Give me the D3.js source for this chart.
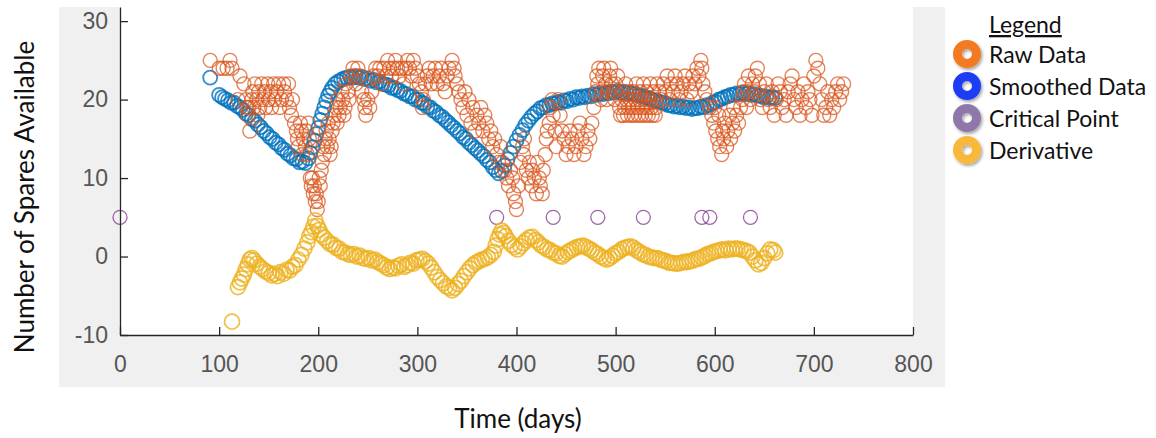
<!DOCTYPE html>
<html lang="en">
<head>
    <meta charset="UTF-8">
    <title>Number of Spares Available</title>
    <script src="https://d3js.org/d3.v7.min.js"></script>
    <style>
        body { margin: 0; background: #fff; }
        svg { display: block; }
        .tick text { font-family: "Liberation Sans", Arial, sans-serif; font-size: 23px; fill: #555; }
        .lbl { font-family: Lato, "Open Sans", sans-serif; fill: #111; }
    </style>
</head>
<body>
    <svg id="chart" width="1156" height="438"></svg>

    <script>
        // raw spares count per day [day, count]
        const rawData = [
            [91,25],[100,24],[104,24],[108,24],[111,25],[113,24],[121,23],[125,22],
            [119,20],[127,20],[128,19],[129,18],[130,19],[131,16],[133,20],[134,21],[135,19],[136,22],[138,20],
            [139,18],[140,21],[141,19],[143,22],[144,20],[146,21],[147,19],[149,22],[150,20],[152,21],[153,19],
            [155,22],[156,20],[158,21],[160,22],[161,19],[163,20],[165,22],[166,21],[168,20],[170,22],[171,19],
            [173,18],[174,20],
            [176,17],[178,16],[179,15],[180,14],[182,17],[183,16],[184,13],[185,15],[187,14],[188,16],[189,13],
            [190,17],[191,15],
            [192,10],[193,9],[194,10],[195,8],[196,9],[197,7],[198,8],[199,6],[200,7],[201,10],[202,9],[203,11],[204,12],
            [205,14],[206,13],[207,15],[208,16],[209,14],[210,17],[211,15],[212,13],[213,14],[214,16],[215,17],
            [216,18],[218,19],[219,17],[220,20],[221,18],[222,19],[224,21],[225,20],[226,18],[227,19],[228,22],
            [230,21],[231,20],
            [233,23],[235,24],[237,23],[238,22],[240,24],[242,23],[244,21],[246,20],[247,19],[248,18],[250,20],
            [252,19],[254,21],[256,23],[258,24],[260,23],[262,24],[264,22],[266,24],[268,23],[270,25],[272,24],
            [274,23],[276,24],[278,25],[280,24],[282,23],[284,24],[286,22],[288,24],[290,25],[292,24],[294,23],
            [296,25],[298,24],[300,23],[302,22],[304,21],[305,19],[306,20],[308,22],[310,23],[312,24],[314,22],
            [316,23],[318,24],[320,22],[322,23],[324,24],[326,22],[328,21],[330,23],[332,24],[335,25],[337,24],
            [338,23],[340,22],[342,21],[344,20],[346,19],[348,21],[350,18],[352,20],[354,17],[356,19],[358,16],
            [360,18],[362,17],[364,19],[366,16],[368,18],[370,17],[372,15],[374,16],[376,14],[378,15],[380,13],
            [382,12],[384,14],[386,12],[388,11],
            [390,10],[392,9],[394,11],[396,10],[397,8],[399,7],[400,6],[402,9],[404,12],[406,14],[407,13],[408,15],
            [410,11],[412,10],[413,12],[415,9],[416,11],[418,10],[420,8],[421,12],[423,10],[424,9],[426,8],[427,11],
            [429,13],[430,15],[431,16],[433,17],[434,19],[436,20],[437,18],[439,16],[440,14],
            [442,20],[444,18],[446,16],[448,15],[450,13],[452,14],[454,16],[456,15],[458,13],[460,14],[462,16],
            [464,17],[466,15],[468,13],[470,14],[472,16],[474,15],[476,17],[478,19],[480,21],
            [481,23],[482,22],[483,24],[485,20],[486,21],[487,23],[488,24],[490,22],[491,20],[492,21],[494,23],
            [495,24],[496,22],[498,21],[499,20],[500,22],[502,23],
            [504,19],[505,18],[506,20],[507,21],[508,18],[509,19],[510,22],[511,20],[512,18],[513,19],[514,21],
            [515,20],[516,18],[517,19],[518,21],[519,18],[520,20],[521,22],[522,19],[523,18],[524,20],[525,21],
            [526,18],[527,19],[528,22],[529,20],[530,18],[531,21],[532,19],[533,18],[534,20],[535,22],[536,19],
            [537,18],[538,21],[539,20],[540,18],[541,19],[542,22],
            [544,21],[546,20],[548,22],[550,21],[552,23],[554,20],[556,22],[558,21],[560,23],[562,22],[564,20],
            [566,21],[568,22],[570,23],[572,20],[574,22],[576,21],[578,23],[580,22],[582,24],[584,23],[586,25],
            [587,24],[588,22],[590,21],[592,20],
            [595,19],[597,18],[599,17],[600,19],[601,16],[603,15],[604,18],[605,14],[607,13],[608,16],[609,15],
            [610,17],[612,14],[613,16],[615,18],[616,15],[618,17],[619,19],[620,16],[622,18],[624,17],[626,19],
            [628,20],[629,21],[630,22],[632,19],[633,21],[634,23],[636,20],[638,22],[640,21],[641,23],[643,24],
            [645,22],[646,20],[648,19],[650,21],
            [652,22],[654,20],[656,19],[658,21],[660,18],[662,20],[664,22],[666,21],[668,19],[670,20],[672,18],
            [674,21],[676,22],[678,23],[680,20],[682,19],[684,21],[686,18],[688,20],[690,22],[692,19],[694,21],
            [696,20],[698,18],
            [700,23],[702,25],[704,24],[706,22],[708,20],[710,18],[712,19],[714,21],[716,18],[718,20],[720,19],
            [722,21],[724,22],[726,20],[728,21],[730,22]
        ];

        // smoothed curve [day, value]
        const smoothedData = [
            [91,22.8],[100,20.6],[103,20.3],[106,20.1],[109,19.9],[112,19.6],[115,19.6],[118,19.2],[121,19.0],
            [124,18.7],[127,18.2],[130,18.0],[133,17.5],[136,17.3],[139,16.8],[142,16.5],[145,16.0],[148,15.7],
            [151,15.2],[154,15.0],[157,14.5],[160,14.3],[163,13.8],[166,13.6],[169,13.1],[172,12.9],[175,12.5],
            [178,12.4],[181,12.0],[184,12.1],[187,11.9],[190,12.5],[192,13.2],[194,13.9],[196,14.8],[198,15.6],
            [200,16.4],[202,17.4],[204,18.2],[206,19.0],[208,19.8],[210,20.5],[212,21.0],[214,21.5],[217,22.0],
            [220,22.3],[223,22.5],[226,22.7],[229,22.8],[232,22.9],[235,22.8],[238,23.0],[241,22.8],[244,22.9],
            [247,22.6],[250,22.7],[253,22.4],[256,22.5],[259,22.2],[262,22.3],[265,22.0],[268,21.9],[271,21.8],
            [274,21.5],[277,21.5],[280,21.2],[283,21.1],[286,20.8],[289,20.7],[292,20.4],[295,20.4],[298,20.0],
            [301,20.0],[304,19.6],[307,19.5],[310,19.1],[313,19.0],[316,18.6],[319,18.4],[322,18.0],[325,17.8],
            [328,17.4],[331,17.1],[334,16.7],[337,16.4],[340,16.0],[343,15.7],[346,15.2],[349,15.0],[352,14.5],
            [355,14.2],[358,13.8],[361,13.5],[364,13.1],[367,12.8],[370,12.3],[373,12.0],[376,11.4],[379,11.0],
            [382,10.6],[385,10.9],[388,11.6],[391,12.4],[394,13.2],[397,14.0],[400,14.8],[403,15.5],[406,16.1],
            [409,16.8],[412,17.3],[415,17.8],[418,18.2],[421,18.5],[424,18.9],[427,19.0],[430,19.3],[433,19.3],
            [436,19.5],[439,19.5],[442,19.7],[445,19.6],[448,19.9],[451,19.8],[454,20.1],[457,20.0],[460,20.3],
            [463,20.2],[466,20.4],[469,20.3],[472,20.5],[475,20.4],[478,20.7],[481,20.6],[484,20.8],[487,20.7],
            [490,20.9],[493,20.8],[496,21.0],[499,20.9],[502,21.1],[505,20.9],[508,21.0],[511,20.8],[514,20.9],
            [517,20.7],[520,20.7],[523,20.5],[526,20.5],[529,20.3],[532,20.2],[535,20.1],[538,19.9],[541,19.9],
            [544,19.7],[547,19.6],[550,19.5],[553,19.3],[556,19.3],[559,19.1],[562,19.2],[565,19.0],[568,19.1],
            [571,18.9],[574,19.0],[577,18.8],[580,18.9],[583,18.9],[586,19.1],[589,19.0],[592,19.3],[595,19.3],
            [598,19.6],[601,19.7],[604,20.0],[607,20.1],[610,20.3],[613,20.4],[616,20.6],[619,20.6],[622,20.8],
            [625,20.7],[628,20.9],[631,20.7],[634,20.8],[637,20.6],[640,20.7],[643,20.5],[646,20.5],[649,20.3],
            [652,20.4],[655,20.2],[658,20.3],[661,20.2]
        ];

        // critical points (plotted at y = 5)
        const criticalDays = [0, 380, 437, 482, 528, 587, 595, 636];
        const criticalLevel = 5;

        // derivative [day, value]
        const derivativeData = [
            [113,-8.3],[119,-3.9],[121,-3.3],[123,-2.8],[125,-2.3],[127,-1.6],[129,-1.0],[131,-0.4],[133,-0.2],
            [135,-0.5],[138,-0.9],[141,-1.3],[144,-1.6],[147,-1.9],[150,-2.1],[153,-2.4],[156,-2.2],[159,-2.5],
            [162,-2.0],[165,-2.2],[168,-1.7],[171,-1.8],[174,-1.3],[177,-1.1],[180,-0.4],[183,0.2],[186,1.0],
            [189,1.8],[191,2.6],[193,3.1],[195,3.8],[197,4.6],[199,3.9],[201,3.4],[203,2.8],[206,2.4],[209,2.0],
            [212,1.6],[215,1.5],[218,1.1],[221,1.0],[224,0.6],[227,0.5],[230,0.3],[233,0.2],[236,0.3],[239,0.0],
            [242,0.1],[245,-0.2],[248,-0.3],[251,-0.2],[254,-0.5],[257,-0.4],[260,-0.7],[263,-0.9],[266,-1.1],
            [269,-1.4],[272,-1.6],[275,-1.4],[278,-1.5],[281,-1.2],[284,-1.0],[287,-1.3],[290,-1.1],[293,-0.8],
            [296,-0.9],[299,-0.5],[302,-0.4],[305,-0.3],[308,-0.6],[311,-0.9],[314,-1.4],[317,-2.0],[320,-2.6],
            [323,-3.0],[326,-3.4],[329,-3.8],[332,-4.0],[335,-4.3],[338,-4.0],[341,-3.5],[344,-3.1],[347,-2.5],
            [350,-2.0],[353,-1.5],[356,-1.1],[359,-0.8],[362,-0.6],[365,-0.4],[368,-0.3],[371,-0.1],[374,0.2],
            [377,0.6],[379,1.4],[381,2.2],[383,2.8],[385,3.3],[387,3.0],[389,2.6],[392,2.0],[395,1.5],[398,1.2],
            [401,0.9],[404,1.3],[407,1.7],[410,2.1],[413,2.4],[416,2.5],[419,2.1],[422,1.8],[425,1.4],[428,1.2],
            [431,0.9],[434,0.8],[437,0.5],[440,0.4],[443,0.1],[446,0.0],[449,0.3],[452,0.6],[455,0.8],[458,1.0],
            [461,1.2],[464,1.3],[467,1.4],[470,1.2],[473,1.0],[476,0.8],[479,0.5],[482,0.3],[485,0.0],[488,-0.2],
            [491,-0.4],[494,-0.2],[497,0.1],[500,0.4],[503,0.6],[506,0.9],[509,1.1],[512,1.2],[515,1.3],[518,1.1],
            [521,0.8],[524,0.6],[527,0.3],[530,0.2],[533,0.0],[536,-0.1],[539,-0.2],[542,-0.2],[545,-0.4],
            [548,-0.5],[551,-0.6],[554,-0.8],[557,-0.8],[560,-0.9],[563,-0.9],[566,-0.8],[569,-0.7],[572,-0.7],
            [575,-0.6],[578,-0.5],[581,-0.3],[584,-0.3],[587,-0.1],[590,0.1],[593,0.3],[596,0.4],[599,0.6],
            [602,0.7],[605,0.8],[608,0.9],[611,0.8],[614,1.0],[617,0.9],[620,1.0],[623,1.0],[626,0.9],[629,0.8],
            [632,0.7],[635,0.5],[638,0.0],[641,-0.5],[644,-1.0],[647,-0.8],[650,-0.2],[653,0.4],[656,0.9],
            [659,0.8],[661,0.5]
        ];

        const xTicks = [0, 100, 200, 300, 400, 500, 600, 700, 800];
        const yTicks = [-10, 0, 10, 20, 30];

        const legendItems = ["Raw Data", "Smoothed Data", "Critical Point", "Derivative"];
        const legendColors = ["#f47a22", "#1f3cf4", "#8e78aa", "#f8b83a"];

        const svg = d3.select("#chart");

        const x = d3.scaleLinear().domain([0, 800]).range([120, 913]);
        const y = d3.scaleLinear().domain([-10, 31.8]).range([335, 7]);

        // figure background + axes area
        svg.append("rect")
            .attr("x", 59).attr("y", 7)
            .attr("width", 886).attr("height", 380)
            .attr("fill", "#f0f0f0");
        svg.append("rect")
            .attr("x", 120).attr("y", 7)
            .attr("width", 793).attr("height", 328)
            .attr("fill", "#fff");

        function drawRings(data, color, r, sw, op) {
            svg.append("g")
                .selectAll("circle")
                .data(data)
                .enter().append("circle")
                .attr("cx", d => x(d[0]))
                .attr("cy", d => y(d[1]))
                .attr("r", r)
                .attr("fill", "none")
                .attr("stroke", color)
                .attr("stroke-width", sw)
                .attr("stroke-opacity", op);
        }

        drawRings(smoothedData, "#0072bd", 7, 1.8, 0.8);
        drawRings(rawData, "#d95319", 7, 1.4, 0.72);
        drawRings(criticalDays.map(d => [d, criticalLevel]), "#7e2f8e", 7, 1.3, 0.75);
        drawRings(derivativeData, "#edb120", 7.5, 1.8, 0.8);

        // axes (MATLAB style: inward ticks, no box)
        const yAxis = svg.append("g")
            .attr("transform", "translate(120,0)")
            .call(d3.axisLeft(y).tickValues(yTicks).tickFormat(d => String(d))
                .tickSizeInner(-8).tickSizeOuter(0).tickPadding(12));
        const xAxis = svg.append("g")
            .attr("transform", "translate(0,335)")
            .call(d3.axisBottom(x).tickValues(xTicks).tickFormat(d => String(d))
                .tickSizeInner(-8).tickSizeOuter(0).tickPadding(21));
        [yAxis, xAxis].forEach(a => {
            a.select(".domain").attr("stroke", "#262626").attr("stroke-width", 1.3);
            a.selectAll(".tick line").attr("stroke", "#262626").attr("stroke-width", 1.3);
        });

        // axis titles
        svg.append("text")
            .attr("class", "lbl")
            .attr("transform", "translate(34,197) rotate(-90)")
            .attr("text-anchor", "middle")
            .attr("font-size", 26)
            .text("Number of Spares Available");

        svg.append("text")
            .attr("class", "lbl")
            .attr("x", 518).attr("y", 428)
            .attr("text-anchor", "middle")
            .attr("font-size", 26)
            .text("Time (days)");

        // legend
        const defs = svg.append("defs");
        defs.append("filter").attr("id", "shadow")
            .attr("x", "-50%").attr("y", "-50%").attr("width", "200%").attr("height", "200%")
            .append("feDropShadow")
            .attr("dx", 1.5).attr("dy", 2).attr("stdDeviation", 1.5)
            .attr("flood-color", "#000").attr("flood-opacity", 0.35);

        const legend = svg.append("g");
        legend.append("text")
            .attr("class", "lbl")
            .attr("x", 989).attr("y", 33)
            .attr("font-size", 23)
            .attr("text-decoration", "underline")
            .text("Legend");

        const item = legend.selectAll(".item")
            .data(legendItems)
            .enter().append("g")
            .attr("transform", (d, i) => `translate(0, ${54 + i * 32})`);

        item.append("circle")
            .attr("cx", 967).attr("cy", 0)
            .attr("r", 9.5)
            .attr("fill", "none")
            .attr("stroke", (d, i) => legendColors[i])
            .attr("stroke-width", 9)
            .attr("filter", "url(#shadow)");

        item.append("text")
            .attr("class", "lbl")
            .attr("x", 989).attr("y", 9)
            .attr("font-size", 23)
            .text(d => d);
    </script>
</body>
</html>
